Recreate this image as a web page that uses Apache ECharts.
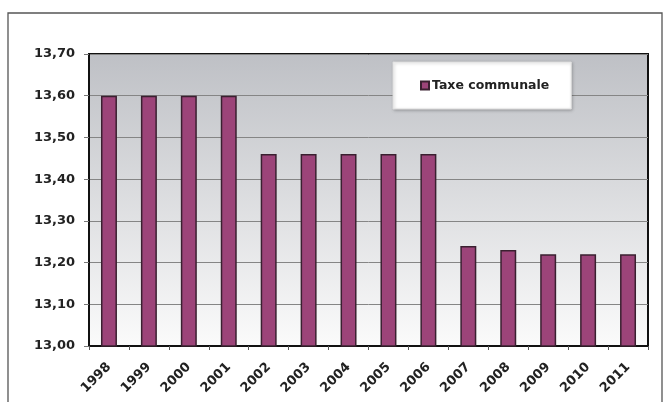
<!DOCTYPE html>
<html><head><meta charset="utf-8">
<script src="https://cdn.jsdelivr.net/npm/echarts@6/dist/echarts.min.js"></script>
<style>html,body{margin:0;padding:0;background:#fff}#c{width:670px;height:402px}</style>
</head><body><div id="c"></div>
<script>
var categories = ['1998','1999','2000','2001','2002','2003','2004','2005','2006','2007','2008','2009','2010','2011'];
var taxeCommunale = [13.60,13.60,13.60,13.60,13.46,13.46,13.46,13.46,13.46,13.24,13.23,13.22,13.22,13.22];
var seriesName = 'Taxe communale';

var chart = echarts.init(document.getElementById('c'));
var font = 'DejaVu Sans';
chart.setOption({
  animation: false,
  graphic: [{
    type: 'rect', shape: {x: 8, y: 13, width: 654, height: 400},
    style: {fill: 'none', stroke: '#555', lineWidth: 1.3}, z: -1
  }],
  grid: {
    left: 89, right: 22, top: 54, bottom: 56, show: true,
    backgroundColor: {type: 'linear', x: 0, y: 0, x2: 0, y2: 1,
      colorStops: [{offset: 0, color: '#bec0c5'}, {offset: 1, color: '#fbfbfb'}]},
    borderColor: '#111', borderWidth: 2
  },
  legend: {
    left: 393, top: 62, icon: 'rect', itemWidth: 8, itemHeight: 8, itemGap: 4,
    padding: [17, 22, 17, 27], backgroundColor: '#fff', borderColor: '#ddd', borderWidth: 1,
    shadowColor: 'rgba(0,0,0,0.25)', shadowBlur: 3, shadowOffsetX: 1, shadowOffsetY: 1,
    textStyle: {fontFamily: font, fontWeight: 'bold', fontSize: 12.5, color: '#222', padding: [0,0,0,-2]},
    data: [seriesName]
  },
  xAxis: {
    type: 'category', data: categories,
    axisLine: {lineStyle: {color: '#111', width: 2}},
    axisTick: {show: true, length: 4, lineStyle: {color: '#555'}},
    axisLabel: {rotate: 45, fontFamily: font, fontWeight: 'bold', fontSize: 13, color: '#222', margin: 19}
  },
  yAxis: {
    type: 'value', min: 13, max: 13.7, interval: 0.1,
    axisLine: {show: true, lineStyle: {color: '#111', width: 2}},
    axisTick: {show: true, length: 5, lineStyle: {color: '#777'}},
    splitLine: {lineStyle: {color: '#858585', width: 1}},
    axisLabel: {fontFamily: font, fontWeight: 'bold', fontSize: 13, color: '#222', margin: 14,
      formatter: function (v) { return v.toFixed(2).replace('.', ','); }}
  },
  series: [{
    name: seriesName, type: 'bar', data: taxeCommunale, barWidth: '40%',
    itemStyle: {color: '#9c4479', borderColor: '#3a2030', borderWidth: 1.5}
  }]
});
</script></body></html>
